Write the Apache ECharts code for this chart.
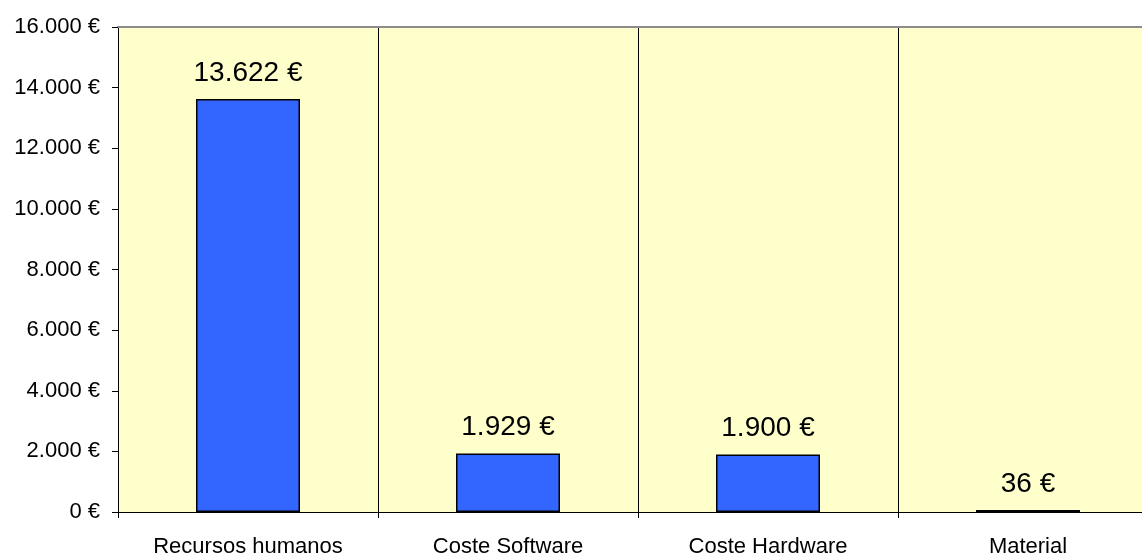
<!DOCTYPE html>
<html>
<head>
<meta charset="utf-8">
<script src="https://cdn.jsdelivr.net/npm/echarts@6/dist/echarts.min.js"></script>
<style>
    html, body { margin: 0; padding: 0; overflow: hidden; background: #fff; }
    #chart { width: 1158px; height: 559px; }
</style>
</head>
<body>
<div id="chart"></div>
<script>
// categorias y costes
var categorias = ['Recursos humanos', 'Coste Software', 'Coste Hardware', 'Material'];
var costes = [13622, 1929, 1900, 36];
var ejeMin = 0, ejeMax = 16000, ejeIntervalo = 2000;

function euros(v) {
    var s = String(Math.round(v));
    return s.replace(/\B(?=(\d{3})+(?!\d))/g, '.') + ' €';
}

var fuente = "'Liberation Sans', Arial, sans-serif";
var myChart = echarts.init(document.getElementById('chart'));
var option = {
    animation: false,
    grid: {
        left: 118,
        right: 0,
        top: 27,
        bottom: 47,
        show: true,
        backgroundColor: '#FFFFCC',
        borderWidth: 0
    },
    xAxis: [
        {
            type: 'category',
            data: categorias,
            axisLine: {lineStyle: {color: '#000', width: 1}},
            axisTick: {show: true, length: 6, lineStyle: {color: '#000'}},
            axisLabel: {color: '#000', fontSize: 22, fontFamily: fuente, margin: 24},
            splitLine: {show: true, lineStyle: {color: '#000', width: 1}}
        },
        {
            type: 'category',
            data: categorias,
            position: 'top',
            axisLine: {lineStyle: {color: '#8c8c8c', width: 2}},
            axisTick: {show: false},
            axisLabel: {show: false},
            splitLine: {show: false}
        }
    ],
    yAxis: {
        type: 'value',
        min: ejeMin,
        max: ejeMax,
        interval: ejeIntervalo,
        axisLine: {show: true, lineStyle: {color: '#000', width: 1}},
        axisTick: {show: true, length: 6, lineStyle: {color: '#000'}},
        axisLabel: {
            color: '#000', fontSize: 22, fontFamily: fuente, margin: 18,
            formatter: euros
        },
        splitLine: {show: false}
    },
    series: [
        {
            type: 'bar',
            data: costes,
            barWidth: '40%',
            barMinHeight: 2,
            itemStyle: {color: '#3366FF', borderColor: '#000', borderWidth: 1.5},
            label: {
                show: true,
                position: 'top',
                distance: 12,
                color: '#000',
                fontSize: 28,
                fontFamily: fuente,
                formatter: function (p) { return euros(p.value); }
            }
        }
    ]
};
myChart.setOption(option);
</script>
</body>
</html>
